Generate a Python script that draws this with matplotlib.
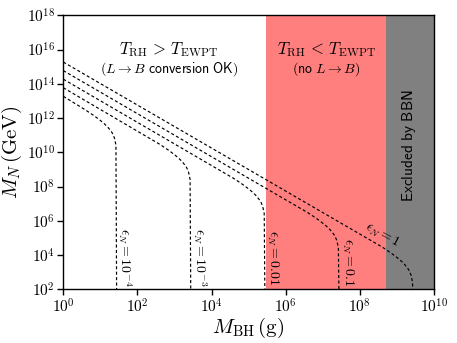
import matplotlib
matplotlib.use("Agg")
import matplotlib.pyplot as plt
import numpy as np

plt.rcParams['mathtext.fontset'] = 'cm'
plt.rcParams['font.family'] = 'serif'
plt.rcParams['font.serif'] = ['cmr10', 'DejaVu Serif']
plt.rcParams['axes.formatter.use_mathtext'] = True

# ---- data (log10 values) ----
eps_labels = [r"$\epsilon_N = 10^{-4}$", r"$\epsilon_N = 10^{-3}$",
              r"$\epsilon_N = 0.01$", r"$\epsilon_N = 0.1$", r"$\epsilon_N = 1$"]

logM_eps1e4 = [0, 0.60, 0.84, 1.00, 1.10, 1.20, 1.30, 1.34, 1.38, 1.42, 1.44]
logN_eps1e4 = [13.27, 12.47, 12.12, 11.86, 11.68, 11.47, 11.20, 11.05, 10.83, 10.42, 1.0]

logM_eps1e3 = [0, 2.60, 2.84, 3.00, 3.10, 3.20, 3.30, 3.34, 3.38, 3.42, 3.44]
logN_eps1e3 = [13.77, 10.47, 10.12, 9.86, 9.68, 9.47, 9.20, 9.05, 8.83, 8.42, 1.0]

logM_eps1e2 = [0, 4.60, 4.84, 5.00, 5.10, 5.20, 5.30, 5.34, 5.38, 5.42, 5.44]
logN_eps1e2 = [14.27, 8.47, 8.12, 7.86, 7.68, 7.47, 7.20, 7.05, 6.83, 6.42, 1.0]

logM_eps1e1 = [0, 6.60, 6.84, 7.00, 7.10, 7.20, 7.30, 7.34, 7.38, 7.42, 7.44]
logN_eps1e1 = [14.77, 6.47, 6.12, 5.86, 5.68, 5.47, 5.20, 5.05, 4.83, 4.42, 1.0]

logM_eps1 = [0, 8.60, 8.84, 9.00, 9.10, 9.20, 9.30, 9.34, 9.38, 9.42, 9.44]
logN_eps1 = [15.27, 4.47, 4.12, 3.86, 3.68, 3.47, 3.20, 3.05, 2.83, 2.42, 1.0]

curves_M = [logM_eps1e4, logM_eps1e3, logM_eps1e2, logM_eps1e1, logM_eps1]
curves_N = [logN_eps1e4, logN_eps1e3, logN_eps1e2, logN_eps1e1, logN_eps1]

ewpt_region = [3.0e5, 5.0e8]
bbn_region = [5.0e8, 1.0e10]

xticks = [1e0, 1e2, 1e4, 1e6, 1e8, 1e10]
yticks = [1e2, 1e4, 1e6, 1e8, 1e10, 1e12, 1e14, 1e16, 1e18]

# label anchor positions (data coords)
label_pos = [(46, 7e3), (4.9e3, 7e3), (4.5e5, 7e3), (4.7e7, 4e3), (4.1e8, 1.4e5)]
label_rot = [-90, -90, -90, -90, -28.5]

fig = plt.figure(figsize=(4.57, 3.43), dpi=100)
ax = fig.add_axes([0.1385, 0.1566, 0.9497 - 0.1385, 0.9554 - 0.1566])

ax.axvspan(ewpt_region[0], ewpt_region[1], color='red', alpha=0.5, lw=0, zorder=0)
ax.axvspan(bbn_region[0], bbn_region[1], color='gray', lw=0, zorder=0)

for lm, ln in zip(curves_M, curves_N):
    ax.plot(10 ** np.array(lm), 10 ** np.array(ln), color='k', lw=0.85,
            dashes=(2.6, 2.0), zorder=2)

for lab, (x, y), r in zip(eps_labels, label_pos, label_rot):
    ax.text(x, y, lab, rotation=r, ha='center', va='center', fontsize=10,
            rotation_mode='anchor', zorder=3)

ax.text(0.285, 0.874, r"$T_{\rm RH}\,>\,T_{\rm EWPT}$", transform=ax.transAxes,
        ha='center', va='center', fontsize=12)
ax.text(0.285, 0.802, r"$(L \to B\ \mathsf{conversion\ OK})$", transform=ax.transAxes,
        ha='center', va='center', fontsize=10)
ax.text(0.71, 0.874, r"$T_{\rm RH}\,<\,T_{\rm EWPT}$", transform=ax.transAxes,
        ha='center', va='center', fontsize=12)
ax.text(0.71, 0.802, r"$(\mathsf{no}\ L \to B)$", transform=ax.transAxes,
        ha='center', va='center', fontsize=10)
ax.text(0.932, 0.525, r"$\mathsf{Excluded\ by\ BBN}$", transform=ax.transAxes,
        ha='center', va='center', fontsize=11, rotation=90)

ax.set_xscale('log')
ax.set_yscale('log')
ax.set_xlim(1e0, 1e10)
ax.set_ylim(1e2, 1e18)
ax.set_xticks(xticks)
ax.set_yticks(yticks)
ax.minorticks_off()
ax.tick_params(axis='both', which='major', labelsize=11, direction='out',
               length=4, width=1.0, pad=2)
for s in ax.spines.values():
    s.set_linewidth(1.0)

ax.set_xlabel(r"$M_{\rm BH}\,(\rm g)$", fontsize=15, labelpad=0)
ax.set_ylabel(r"$M_N\,(\rm GeV)$", fontsize=15, labelpad=2)

fig.savefig("out.png", dpi=100)
